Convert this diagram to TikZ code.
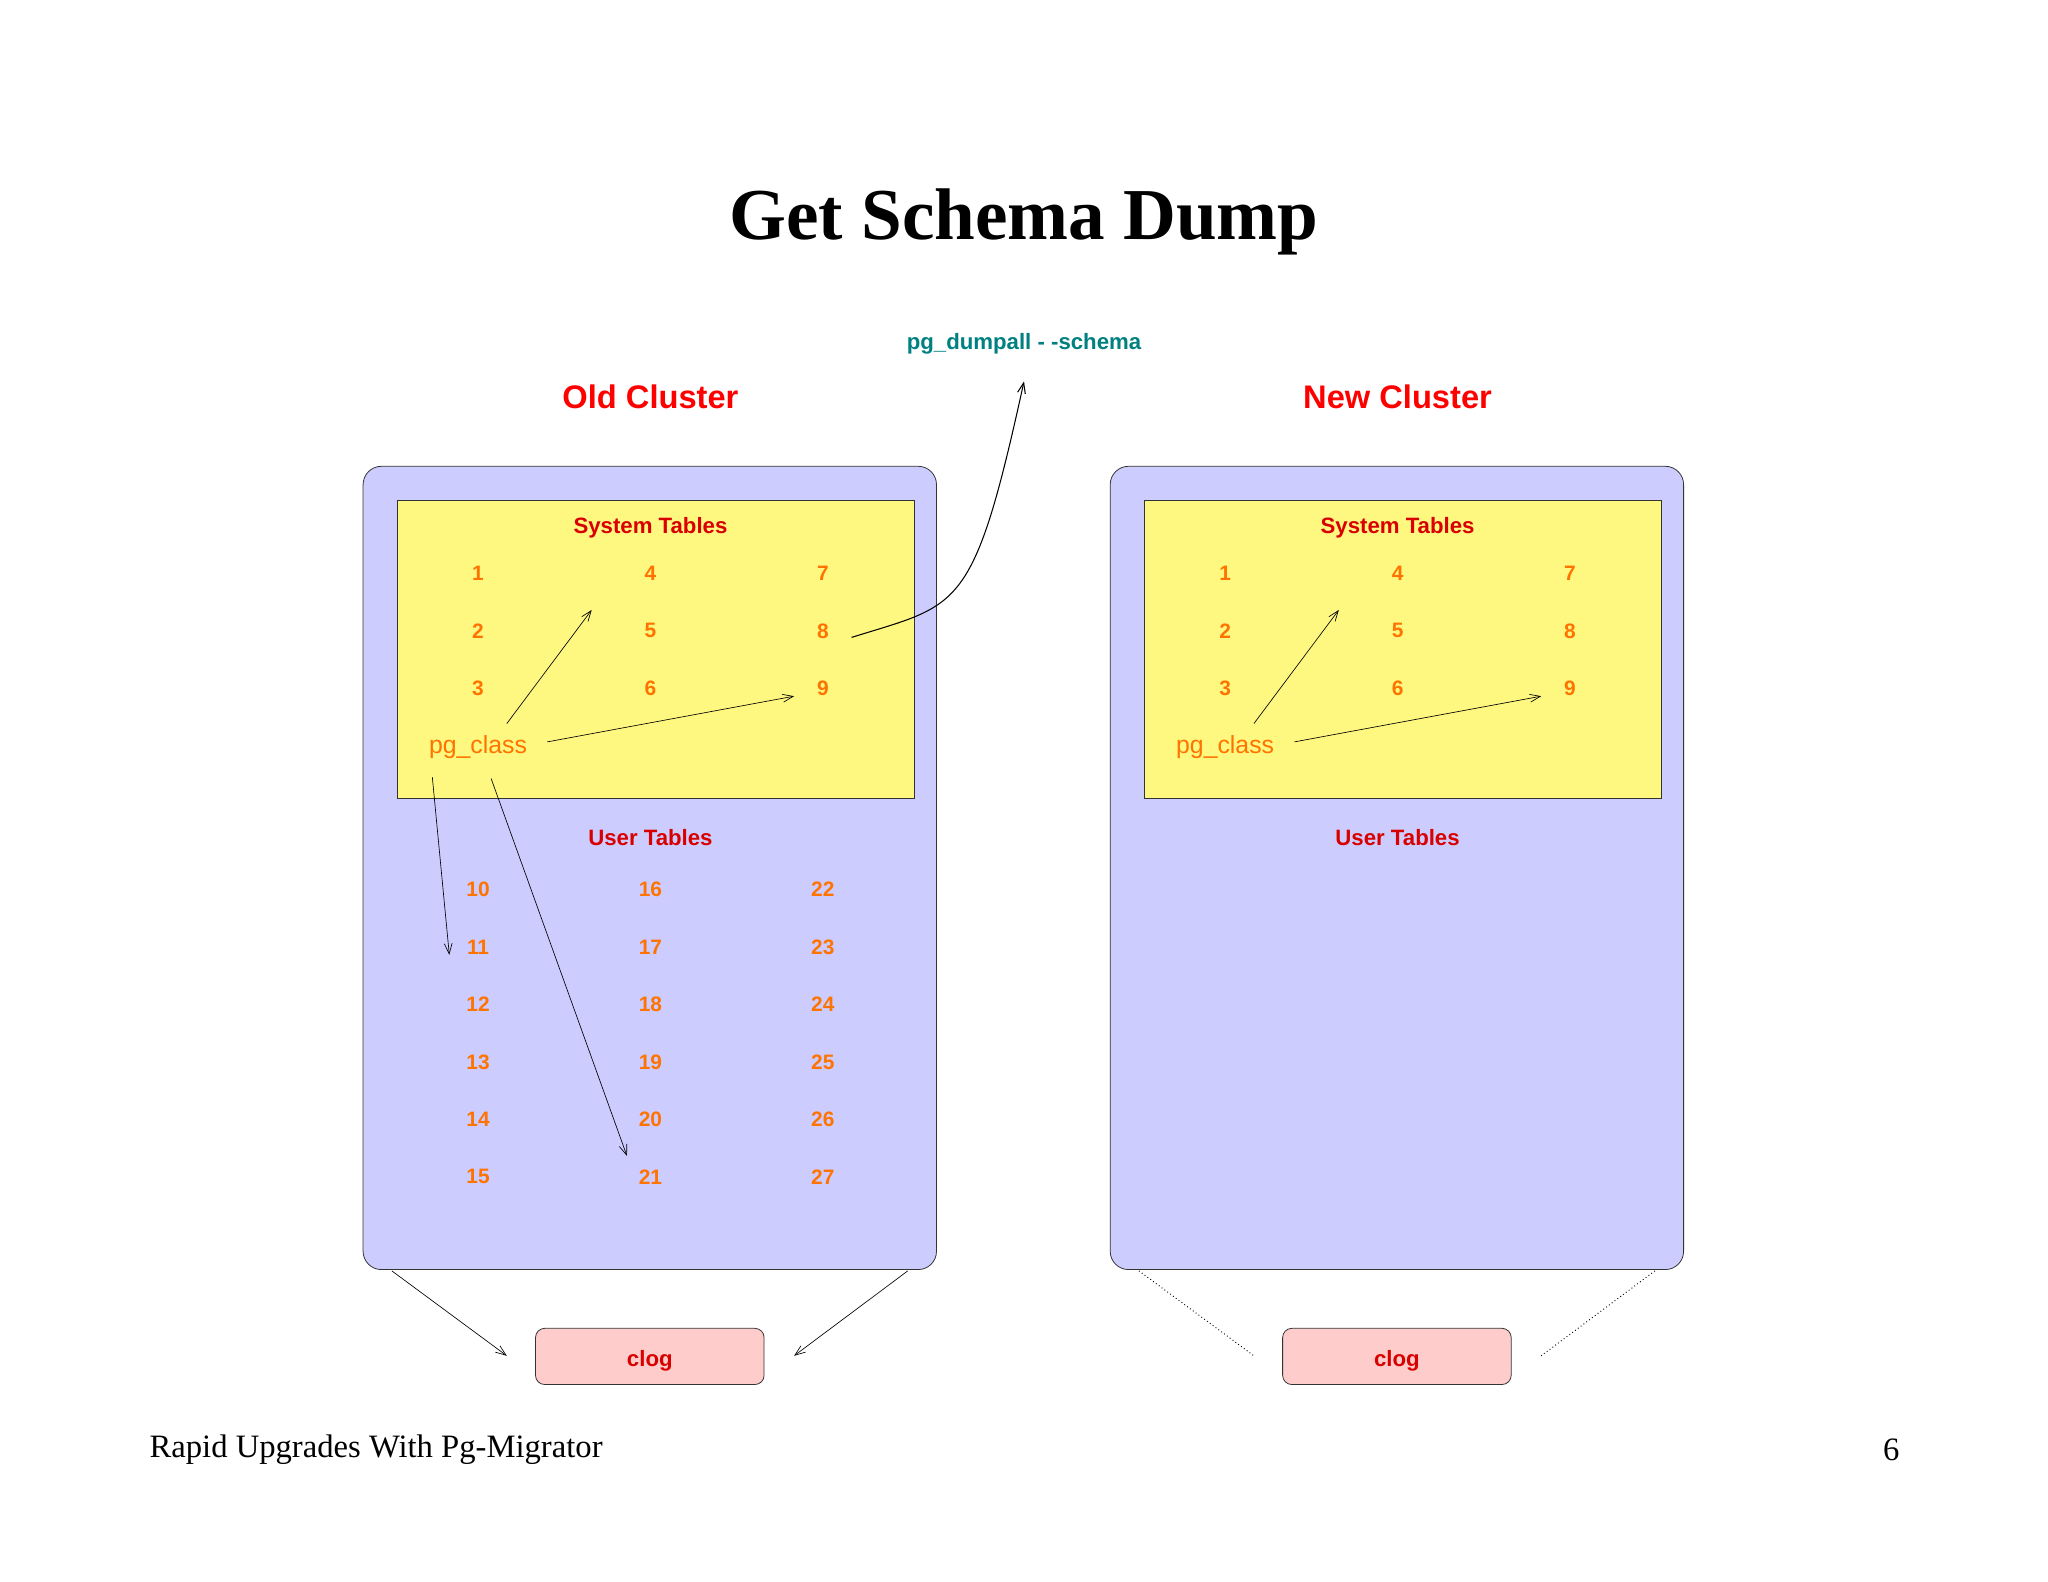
\documentclass[tikz,border=0pt]{standalone}
\usetikzlibrary{arrows.meta}
\usepackage{fontspec}
\setmainfont{Liberation Serif}
\newfontfamily\lsans{Liberation Sans}
\begin{document}
\begin{tikzpicture}[x=1pt,y=-1pt,
  cluster/.style={draw=black!80,fill=blue!20!white,rounded corners=14pt,line width=0.6pt},
  systab/.style={draw=black!80,fill=yellow!50!white,line width=0.6pt},
  clogbox/.style={draw=black!80,fill=pink!80!white,rounded corners=7pt,line width=0.6pt,minimum width=175pt,minimum height=43pt},
  clogtxt/.style={font=\lsans\bfseries\fontsize{17}{20}\selectfont,text=red!85!black},
  num/.style={font=\lsans\bfseries\fontsize{16}{19}\selectfont,text=orange!90!red},
  hdr/.style={font=\lsans\bfseries\fontsize{17}{20}\selectfont,text=red!85!black},
  big/.style={font=\lsans\bfseries\fontsize{25}{30}\selectfont,text=red},
  arr/.style={-{Straight Barb[length=8pt,width=6pt]},line width=0.5pt},
  dot/.style={dotted,line width=0.7pt}]
\useasboundingbox (0,0) rectangle (1568,1211);
\node[font=\bfseries\fontsize{56}{62}\selectfont] (title) at (784,170) {Get Schema Dump};
\node[font=\lsans\bfseries\fontsize{17}{20}\selectfont,text=teal] (dump) at (784,263) {pg\_dumpall - -schema};
\coordinate (dumpin) at (784,292);
\foreach \p/\lab in {0/old,572/new}{
  \begin{scope}[xshift=\p]
  \draw[cluster] (278,357) rectangle (717,972);
  \draw[systab] (304,383) rectangle (700,611);
  \node[hdr] (\lab st) at (498,404) {System Tables};
  \node[hdr] (\lab ut) at (498,641) {User Tables};
  \foreach \i/\x/\y in {1/366/439,2/366/483,3/366/527,4/498/439,5/498/483,6/498/527,7/630/439,8/630/483,9/630/527}
    \node[num] (\lab n\i) at (\x,\y) {\i};
  \node[num,font=\lsans\fontsize{19}{22}\selectfont] (\lab pg) at (366,572) {pg\_class};
  \node[clogbox] (\lab clog) at (497.5,1038.5) {};
  \node[clogtxt] (\lab clogt) at (497.5,1042) {clog};
  \draw[arr] (388,554) -- (453,467);
  \draw[arr] (419,568) -- (608,533);
  \end{scope}
}
\node[big] (oldtitle) at (498,304) {Old Cluster};
\node[big] (newtitle) at (1070,304) {New Cluster};
\foreach \c/\x in {0/366,1/498,2/630}
  \foreach \r/\y in {0/681,1/725,2/769,3/813,4/857,5/901}{
    \pgfmathtruncatemacro\n{10+6*\c+\r}
    \node[num] (u\n) at (\x,\y) {\n};
  }
\draw[arr] (331,595) -- (344,731);
\draw[arr] (376,596) -- (480,885);
\draw[arr,line width=0.8pt] (652,488) .. controls (735,462) and (745,470) .. (dumpin);
\draw[arr] (300,973) -- (388,1038);
\draw[arr] (695,973) -- (608,1038);
\draw[dot] (872,973) -- (960,1038);
\draw[dot] (1267,973) -- (1180,1038);
\node[anchor=west,font=\fontsize{25}{30}\selectfont] (foot) at (111,1110) {Rapid Upgrades With Pg-Migrator};
\node[font=\fontsize{25}{30}\selectfont] (page) at (1448,1110) {6};
\end{tikzpicture}
\end{document}
